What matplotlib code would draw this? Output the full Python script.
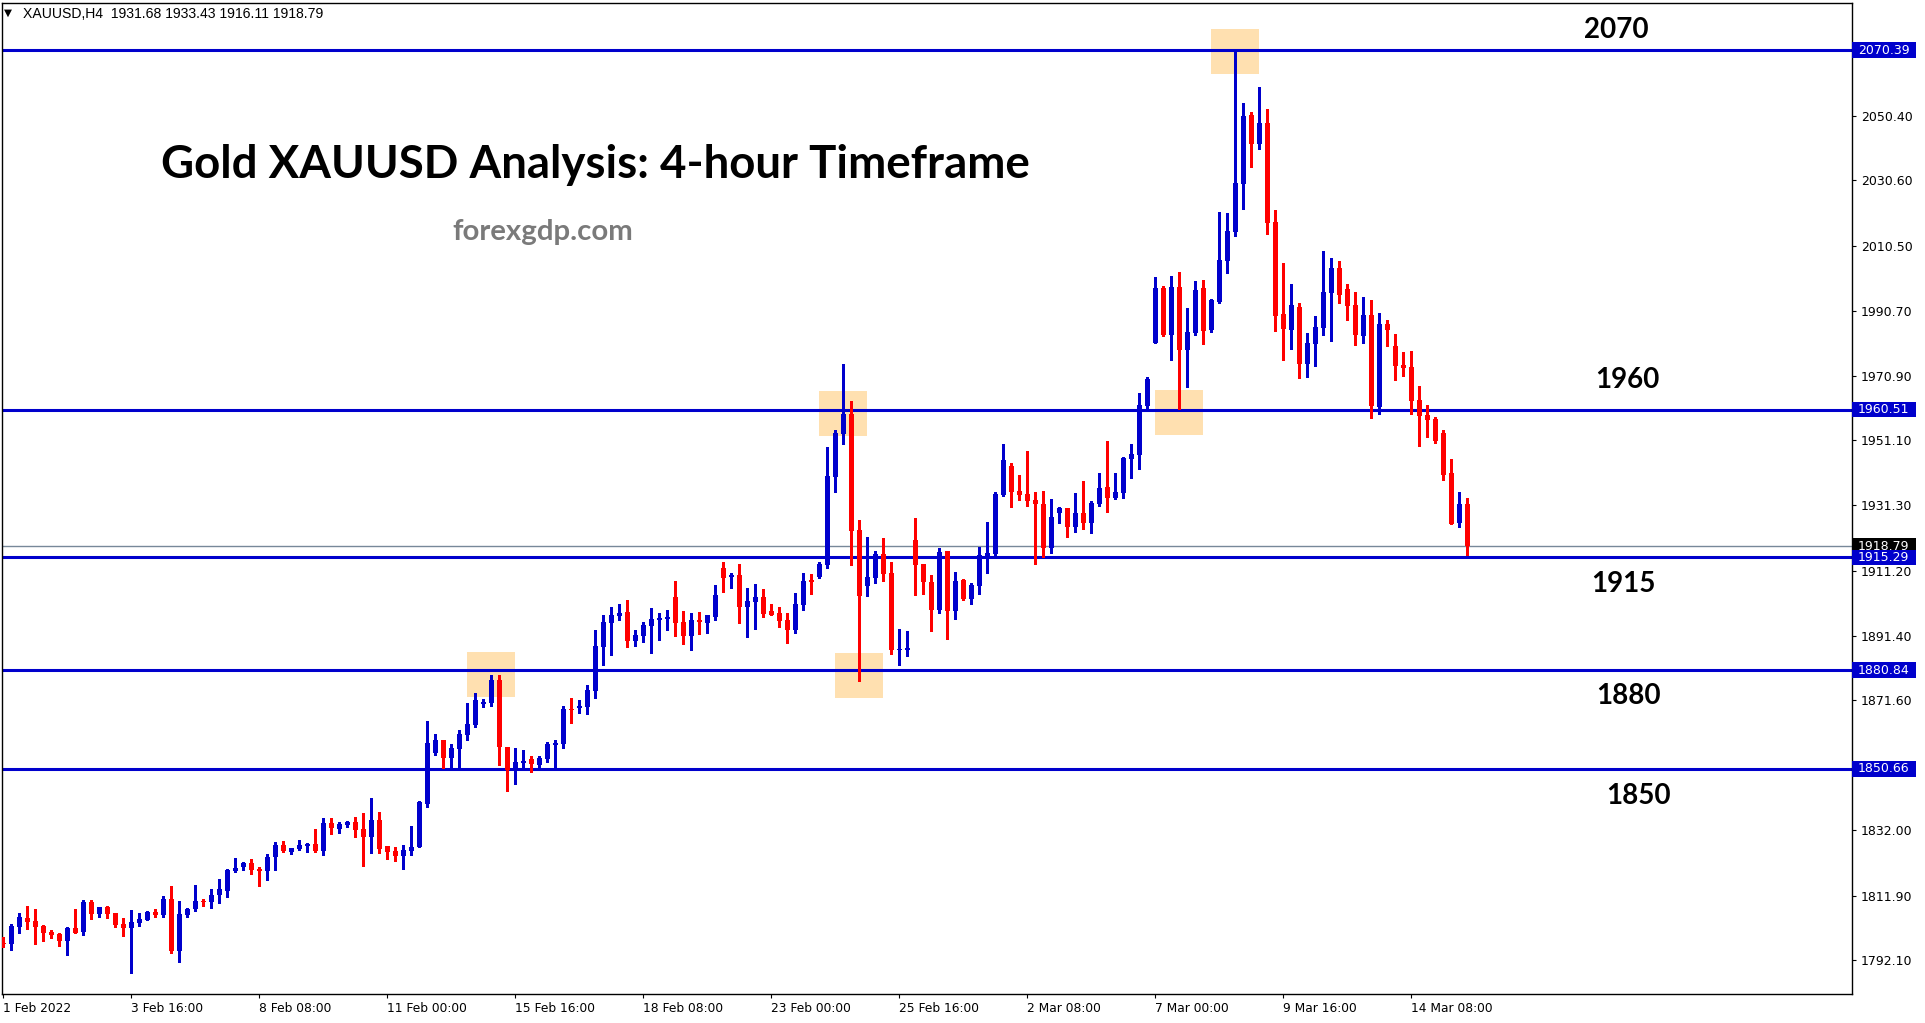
import matplotlib
matplotlib.use('Agg')
import matplotlib.pyplot as plt
from matplotlib.patches import Rectangle
import matplotlib.transforms as mtransforms

W, H, DPI = 1925, 1023, 100

# ---------------- data (4h candles, 1 Feb - 14 Mar 2022) ----------------
opens = [1797.4, 1797.2, 1802.4, 1804.9, 1804.1, 1802.6, 1800.8, 1800.1, 1798.1, 1802.0,
         1800.9, 1809.9, 1806.4, 1808.4, 1806.6, 1803.2, 1802.1, 1803.6, 1804.5, 1806.9,
         1806.1, 1810.9, 1795.05, 1806.1, 1807.8, 1810.3, 1810.0, 1812.1, 1813.4, 1819.4,
         1820.7, 1821.9, 1820.0, 1819.5, 1823.6, 1827.35, 1825.2, 1826.1, 1827.05, 1827.7,
         1825.6, 1834.1, 1832.25, 1833.5, 1834.4, 1832.25, 1829.8, 1835.0, 1827.05, 1825.5,
         1824.0, 1825.5, 1826.75, 1839.9, 1855.5, 1859.5, 1854.0, 1856.7, 1861.0, 1864.05,
         1870.5, 1870.7, 1877.8, 1857.45, 1850.3, 1852.45, 1853.65, 1851.85, 1853.65, 1857.95,
         1858.25, 1869.0, 1869.4, 1869.7, 1874.6, 1887.9, 1895.4, 1897.5, 1898.6, 1889.85,
         1891.3, 1894.35, 1896.3, 1896.6, 1903.2, 1895.6, 1891.3, 1896.2, 1895.3, 1897.1,
         1912.1, 1909.3, 1909.9, 1900.15, 1901.7, 1903.2, 1898.9, 1898.3, 1896.2, 1893.1,
         1900.8, 1908.2, 1909.3, 1913.0, 1939.9, 1953.2, 1959.2, 1923.7, 1906.6, 1909.0,
         1916.4, 1910.5, 1887.0, 1887.0, 1920.6, 1913.3, 1907.8, 1899.2, 1917.3, 1898.9,
         1908.4, 1902.6, 1906.6, 1915.7, 1916.4, 1934.4, 1943.3, 1935.6, 1934.7, 1932.9,
         1931.6, 1918.2, 1929.0, 1930.4, 1924.7, 1928.9, 1925.9, 1931.75, 1936.85, 1933.6,
         1935.1, 1945.5, 1946.7, 1961.6, 1980.9, 1997.7, 1983.3, 1998.0, 1978.7, 1983.9,
         1997.7, 1984.9, 1993.4, 2006.0, 2014.8, 2029.5, 2050.6, 2041.7, 2048.2, 2017.9,
         1989.75, 1984.85, 1991.9, 1974.5, 1980.6, 1985.5, 1996.2, 2003.8, 1997.4, 1992.5,
         1983.0, 1989.45, 1961.3, 1986.7, 1979.95, 1974.15, 1973.5, 1963.45, 1958.9, 1957.6,
         1953.4, 1941.1, 1925.8, 1931.68]
highs = [1799.1, 1803.2, 1806.6, 1808.7, 1807.8, 1802.9, 1801.4, 1800.45, 1802.2, 1807.8,
         1810.5, 1810.5, 1808.4, 1808.7, 1806.6, 1805.0, 1807.5, 1806.6, 1807.2, 1807.8,
         1811.8, 1814.8, 1810.2, 1808.1, 1815.1, 1810.9, 1813.9, 1817.0, 1820.0, 1823.4,
         1822.2, 1823.1, 1820.6, 1824.6, 1828.3, 1828.6, 1826.45, 1828.9, 1828.0, 1832.25,
         1835.6, 1835.6, 1834.4, 1834.7, 1835.9, 1837.15, 1841.7, 1837.45, 1827.05, 1826.75,
         1827.35, 1833.2, 1840.8, 1865.3, 1861.3, 1859.5, 1858.25, 1862.5, 1870.8, 1873.95,
         1872.0, 1879.35, 1879.35, 1857.45, 1857.0, 1856.4, 1854.6, 1854.6, 1858.9, 1859.5,
         1869.9, 1872.3, 1871.7, 1876.3, 1893.1, 1897.7, 1900.15, 1901.05, 1902.3, 1893.1,
         1895.6, 1899.85, 1898.3, 1899.2, 1908.1, 1898.9, 1898.3, 1898.6, 1897.7, 1906.9,
         1913.9, 1910.55, 1913.3, 1905.95, 1907.2, 1905.65, 1901.05, 1900.15, 1898.3, 1904.4,
         1910.55, 1910.2, 1913.9, 1949.1, 1954.3, 1974.45, 1963.15, 1926.75, 1921.55, 1917.3,
         1921.25, 1913.9, 1893.4, 1892.8, 1927.4, 1913.3, 1909.9, 1918.2, 1917.3, 1910.8,
         1908.7, 1907.5, 1918.5, 1926.1, 1935.3, 1950.0, 1944.2, 1940.5, 1947.9, 1935.3,
         1935.6, 1933.2, 1930.7, 1930.4, 1935.0, 1938.7, 1932.6, 1941.1, 1950.9, 1941.1,
         1946.0, 1950.0, 1965.6, 1970.5, 2001.1, 1998.3, 2001.4, 2002.6, 1991.6, 1999.8,
         2000.2, 1994.3, 2020.95, 2020.6, 2070.39, 2054.3, 2051.5, 2059.2, 2052.4, 2021.6,
         2005.35, 1998.9, 1993.1, 1983.95, 1989.1, 2009.0, 2006.9, 2005.95, 1998.9, 1996.5,
         1994.95, 1994.0, 1990.05, 1987.9, 1983.6, 1978.1, 1978.4, 1967.7, 1961.9, 1958.25,
         1954.3, 1945.4, 1935.3, 1933.43]
lows = [1796.1, 1795.35, 1800.55, 1801.7, 1797.2, 1798.1, 1799.0, 1796.6, 1793.8, 1800.5,
        1799.9, 1804.8, 1805.4, 1805.1, 1802.4, 1799.6, 1788.3, 1802.7, 1804.3, 1805.4,
        1805.4, 1794.4, 1791.7, 1805.4, 1807.3, 1808.8, 1808.2, 1809.7, 1811.6, 1819.1,
        1819.8, 1818.6, 1814.9, 1816.8, 1819.8, 1825.3, 1824.7, 1825.8, 1825.2, 1825.2,
        1824.3, 1830.7, 1831.0, 1832.9, 1829.8, 1820.9, 1824.9, 1824.9, 1823.1, 1822.5,
        1820.0, 1824.3, 1826.75, 1839.0, 1854.9, 1850.9, 1850.7, 1850.7, 1859.5, 1863.4,
        1869.7, 1869.98, 1851.8, 1844.0, 1846.0, 1850.6, 1849.7, 1850.6, 1852.75, 1850.6,
        1857.0, 1864.8, 1867.85, 1867.4, 1872.3, 1882.4, 1885.5, 1896.2, 1887.9, 1888.2,
        1889.45, 1886.1, 1890.05, 1893.1, 1891.3, 1888.85, 1887.0, 1891.9, 1892.2, 1896.2,
        1904.7, 1905.95, 1895.25, 1890.95, 1893.4, 1897.1, 1897.7, 1894.0, 1889.15, 1892.2,
        1899.2, 1904.1, 1909.0, 1912.1, 1935.3, 1950.0, 1913.0, 1877.5, 1903.5, 1907.5,
        1908.1, 1885.8, 1882.4, 1885.2, 1903.8, 1904.1, 1892.8, 1898.3, 1890.4, 1896.5,
        1902.3, 1901.1, 1904.1, 1910.5, 1915.7, 1934.1, 1930.7, 1932.9, 1931.0, 1913.3,
        1915.4, 1916.7, 1925.9, 1921.7, 1923.2, 1924.1, 1922.9, 1931.1, 1929.3, 1933.3,
        1933.6, 1939.6, 1942.45, 1960.7, 1980.9, 1983.0, 1975.7, 1960.7, 1967.4, 1983.3,
        1980.6, 1984.25, 1993.1, 2002.3, 2013.6, 2021.9, 2034.7, 2040.2, 2014.2, 1984.55,
        1975.7, 1979.0, 1970.2, 1970.5, 1973.85, 1983.3, 1981.5, 1993.1, 1987.9, 1980.3,
        1980.9, 1957.95, 1959.2, 1979.95, 1969.6, 1970.8, 1959.2, 1949.4, 1952.1, 1950.3,
        1939.0, 1925.5, 1924.6, 1916.11]
closes = [1797.3, 1802.6, 1805.3, 1803.9, 1802.4, 1800.55, 1799.9, 1798.1, 1802.0, 1800.55,
          1809.9, 1806.4, 1808.4, 1806.4, 1802.9, 1802.1, 1803.8, 1804.7, 1807.0, 1806.1,
          1810.9, 1795.05, 1806.3, 1807.8, 1810.2, 1810.1, 1812.1, 1813.9, 1819.7, 1820.3,
          1821.9, 1819.8, 1819.5, 1823.7, 1827.4, 1825.6, 1826.45, 1827.35, 1827.7, 1825.6,
          1834.1, 1832.6, 1833.8, 1834.4, 1831.95, 1829.8, 1835.0, 1826.1, 1825.2, 1824.0,
          1825.8, 1826.75, 1840.5, 1858.55, 1859.5, 1854.0, 1857.0, 1861.3, 1864.4, 1871.7,
          1871.0, 1877.8, 1857.45, 1850.3, 1852.75, 1853.05, 1852.15, 1853.95, 1858.25, 1858.55,
          1868.95, 1868.8, 1870.0, 1874.8, 1888.2, 1895.6, 1897.7, 1898.3, 1889.85, 1891.6,
          1894.65, 1896.5, 1896.8, 1897.1, 1895.4, 1891.3, 1896.2, 1895.6, 1897.7, 1903.8,
          1909.0, 1910.0, 1900.15, 1901.95, 1903.2, 1898.0, 1897.7, 1895.9, 1893.1, 1901.05,
          1908.1, 1908.0, 1913.3, 1940.2, 1953.4, 1959.2, 1923.4, 1903.5, 1909.3, 1916.4,
          1910.2, 1887.0, 1887.3, 1887.6, 1913.0, 1907.8, 1899.2, 1916.97, 1898.9, 1908.1,
          1902.6, 1906.9, 1916.05, 1916.7, 1934.7, 1945.1, 1935.3, 1934.4, 1932.6, 1931.65,
          1918.2, 1927.7, 1930.4, 1924.7, 1928.9, 1925.9, 1931.95, 1936.5, 1933.6, 1935.3,
          1945.7, 1946.9, 1961.9, 1969.9, 1997.7, 1983.3, 1998.0, 1978.7, 1984.25, 1997.1,
          1984.55, 1994.0, 2006.3, 2015.1, 2029.8, 2050.3, 2041.7, 2048.2, 2017.6, 1989.1,
          1985.2, 1992.5, 1974.5, 1980.9, 1985.8, 1996.5, 2003.8, 1995.6, 1992.2, 1983.3,
          1989.45, 1961.6, 1986.7, 1984.85, 1973.85, 1973.2, 1963.15, 1958.6, 1957.3, 1950.9,
          1940.5, 1925.5, 1931.65, 1918.79]

x_tick_pos = [0, 16, 32, 48, 64, 80, 96, 112, 128, 144, 160, 176]
x_tick_labels = ['1 Feb 2022', '3 Feb 16:00', '8 Feb 08:00', '11 Feb 00:00', '15 Feb 16:00',
                 '18 Feb 08:00', '23 Feb 00:00', '25 Feb 16:00', '2 Mar 08:00', '7 Mar 00:00',
                 '9 Mar 16:00', '14 Mar 08:00']
y_ticks = [2050.40, 2030.60, 2010.50, 1990.70, 1970.90, 1951.10, 1931.30, 1911.20,
           1891.40, 1871.60, 1832.00, 1811.90, 1792.10]
levels = [2070.39, 1960.51, 1915.29, 1880.84, 1850.66]
level_names = ['2070', '1960', '1915', '1880', '1850']
current_price = 1918.79
header = 'XAUUSD,H4  1931.68 1933.43 1916.11 1918.79'
title = 'Gold XAUUSD Analysis: 4-hour Timeframe'
site = 'forexgdp.com'
# highlight zones: (candle index, price level)
zone_x = [61, 105, 107, 147, 154]
zone_y = [1879.5, 1959.2, 1879.2, 1959.5, 2070.0]

# ---------------- style ----------------
BLUE = '#0000CC'
RED = '#FF0000'
ZONE = '#FFE0B0'

fig = plt.figure(figsize=(W / DPI, H / DPI), dpi=DPI)
fig.patch.set_facecolor('white')
ax = fig.add_axes([2 / W, 1 - 993.5 / H, 1850 / W, 990.5 / H])
ax.set_xlim(-0.1625, 231.0875)
ax.set_ylim(1781.95, 2084.85)

# zones
for zx, zy in zip(zone_x, zone_y):
    ax.add_patch(Rectangle((zx - 3, zy - 6.9), 6, 13.8, facecolor=ZONE,
                           edgecolor='none', zorder=1))

# current price line and levels
ax.axhline(current_price, color='#778899', lw=1.0, zorder=1.5)
for lv in levels:
    ax.axhline(lv, color=BLUE, lw=2.2, zorder=2)

# candles
idx = list(range(len(opens)))
cols = [BLUE if c >= o else RED for o, c in zip(opens, closes)]
ax.vlines(idx, lows, highs, colors=cols, lw=1.0, zorder=3, antialiased=False)
bottoms, heights = [], []
for o, c in zip(opens, closes):
    lo, hi = min(o, c), max(o, c)
    if hi - lo < 0.35:
        m = (hi + lo) / 2
        lo, hi = m - 0.175, m + 0.175
    bottoms.append(lo)
    heights.append(hi - lo)
ax.bar(idx, heights, bottom=bottoms, width=0.625, color=cols, linewidth=0, zorder=4)

# axes styling
for sp in ax.spines.values():
    sp.set_color('black')
    sp.set_linewidth(1.0)
ax.yaxis.tick_right()
ax.set_yticks(y_ticks)
ax.set_yticklabels([f'{v:.2f}' for v in y_ticks])
ax.tick_params(axis='y', direction='out', length=3, width=0.8, pad=3.5,
               labelsize=9, colors='black')
ax.set_xticks(x_tick_pos)
ax.set_xticklabels(x_tick_labels, ha='left')
ax.tick_params(axis='x', direction='out', length=3, width=0.8, pad=3,
               labelsize=8.8, colors='black')

# right price boxes
trans = mtransforms.blended_transform_factory(ax.transAxes, ax.transData)
box_w = 64 / 1850
half_h = 7.8 / 3.27
for v, fc in [(current_price, 'black')] + [(lv, BLUE) for lv in levels]:
    ax.add_patch(Rectangle((1.0, v - half_h), box_w, 2 * half_h, transform=trans,
                           facecolor=fc, edgecolor='none', clip_on=False, zorder=10))
    ax.text(1.0 + 6 / 1850, v, f'{v:.2f}', transform=trans, color='white',
            fontsize=9, va='center', ha='left', clip_on=False, zorder=11)

# texts
renderer = fig.canvas.get_renderer()


def fit(t, target):
    w = t.get_window_extent(renderer=renderer).width
    t.set_fontsize(t.get_fontsize() * target / w)


def px(x, y):
    return x / W, 1 - y / H


t = fig.text(*px(161, 178), title, fontsize=30, fontweight='bold', family='Lato',
             color='black', ha='left', va='baseline')
fit(t, 868)
t = fig.text(*px(452, 240), site, fontsize=20, fontweight='bold', family='Lato',
             color='#7a7a7a', ha='left', va='baseline')
fit(t, 181)

name_pos = [(1616, 38), (1627, 388), (1623, 592), (1629, 704), (1638, 804)]
for nm, (x, y) in zip(level_names, name_pos):
    fig.text(*px(x, y), nm, fontsize=20, fontweight='bold', family='Lato',
             color='black', ha='center', va='baseline')

fig.text(*px(4, 16), '\u25BC', fontsize=7.5, color='black', ha='left', va='baseline')
t = fig.text(*px(23, 18), header, fontsize=9, family='Liberation Sans',
             color='black', ha='left', va='baseline')
fit(t, 302)

fig.savefig('out.png', dpi=DPI, facecolor='white')
